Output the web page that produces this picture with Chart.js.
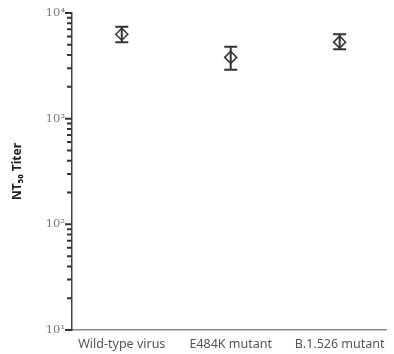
<!DOCTYPE html>
<html>
<head>
<meta charset="utf-8">
<script src="https://cdn.jsdelivr.net/npm/chart.js@4"></script>
<style>
  html, body { margin: 0; padding: 0; background: #fff; }
  canvas { display: block; }
</style>
</head>
<body>
<canvas id="titerChart" width="394" height="354"></canvas>
<script>
// values
const categories = ['Wild-type virus', 'E484K mutant', 'B.1.526 mutant'];
const titerMean = [6300, 3800, 5300];
const titerLow = [5300, 2900, 4550];
const titerHigh = [7400, 4800, 6300];
const yTickLabels = { 10: '10¹', 100: '10²', 1000: '10³', 10000: '10⁴' };
const yDecades = [10, 100, 1000];
const minorSteps = [2, 3, 4, 5, 6, 7, 8, 9];

// error bars with caps, then log ticks on the y axis
const errorBars = {
    id: 'errorBars',
    afterDatasetsDraw(chart) {
        const ctx = chart.ctx;
        const xs = chart.scales.x;
        const ys = chart.scales.y;
        ctx.save();
        ctx.strokeStyle = '#333';
        ctx.lineWidth = 2;
        for (let i = 0; i < categories.length; i++) {
            const x = xs.getPixelForValue(i);
            const yTop = ys.getPixelForValue(titerHigh[i]);
            const yBot = ys.getPixelForValue(titerLow[i]);
            ctx.beginPath();
            ctx.moveTo(x, yTop);
            ctx.lineTo(x, yBot);
            ctx.moveTo(x - 6.5, yTop);
            ctx.lineTo(x + 6.5, yTop);
            ctx.moveTo(x - 6.5, yBot);
            ctx.lineTo(x + 6.5, yBot);
            ctx.stroke();
        }
        ctx.restore();
    },
    afterDraw(chart) {
        const ctx = chart.ctx;
        const ys = chart.scales.y;
        const axisX = chart.chartArea.left;
        ctx.save();
        ctx.strokeStyle = '#333';
        ctx.lineWidth = 2;
        ctx.beginPath();
        Object.keys(yTickLabels).forEach((v) => {
            const y = ys.getPixelForValue(Number(v));
            ctx.moveTo(axisX - 7, y);
            ctx.lineTo(axisX, y);
        });
        yDecades.forEach((d) => {
            minorSteps.forEach((m) => {
                const y = ys.getPixelForValue(d * m);
                ctx.moveTo(axisX - 5, y);
                ctx.lineTo(axisX, y);
            });
        });
        ctx.stroke();
        ctx.restore();
    }
};

const ctx = document.getElementById('titerChart').getContext('2d');

const titerChart = new Chart(ctx, {
    type: 'scatter',
    data: {
        datasets: [{
            data: titerMean.map((v, i) => ({ x: i, y: v })),
            pointStyle: 'rectRot',
            pointRadius: 6,
            pointBorderWidth: 1.5,
            borderColor: '#333',
            backgroundColor: 'rgba(255,255,255,0)',
            pointBackgroundColor: 'rgba(255,255,255,0)',
            pointBorderColor: '#333'
        }]
    },
    plugins: [errorBars],
    options: {
        responsive: false,
        animation: false,
        layout: { padding: { top: 13, right: 0, left: 0, bottom: 0 } },
        plugins: {
            legend: { display: false },
            tooltip: { enabled: false }
        },
        scales: {
            x: {
                type: 'linear',
                min: -0.457,
                max: 2.43,
                afterBuildTicks: (scale) => {
                    scale.ticks = categories.map((c, i) => ({ value: i }));
                },
                afterFit: (scale) => { scale.height = 24; },
                ticks: {
                    callback: (value) => categories[value],
                    color: '#555',
                    font: { family: 'Noto Sans', size: 12.5 },
                    padding: 7,
                    maxRotation: 0,
                    autoSkip: false
                },
                grid: { display: false, drawTicks: false },
                border: { color: '#888', width: 1.5 }
            },
            y: {
                type: 'logarithmic',
                min: 10,
                max: 10000,
                afterBuildTicks: (scale) => {
                    scale.ticks = Object.keys(yTickLabels).map((v) => ({ value: Number(v), major: true }));
                },
                afterFit: (scale) => {
                    scale.width = 72;
                    scale.paddingTop = 0;
                    scale.paddingBottom = 0;
                },
                title: {
                    display: true,
                    text: 'NT₅₀ Titer',
                    color: '#222',
                    font: { family: 'Noto Sans', size: 12, weight: 'bold' },
                    padding: { top: 10, bottom: 0 }
                },
                ticks: {
                    callback: (value) => yTickLabels[value] || '',
                    color: '#777',
                    font: { family: 'DejaVu Serif', size: 11.5 },
                    padding: 7,
                    autoSkip: false
                },
                grid: { display: false, drawTicks: false },
                border: { color: '#444', width: 1.5 }
            }
        }
    }
});
</script>
</body>
</html>
